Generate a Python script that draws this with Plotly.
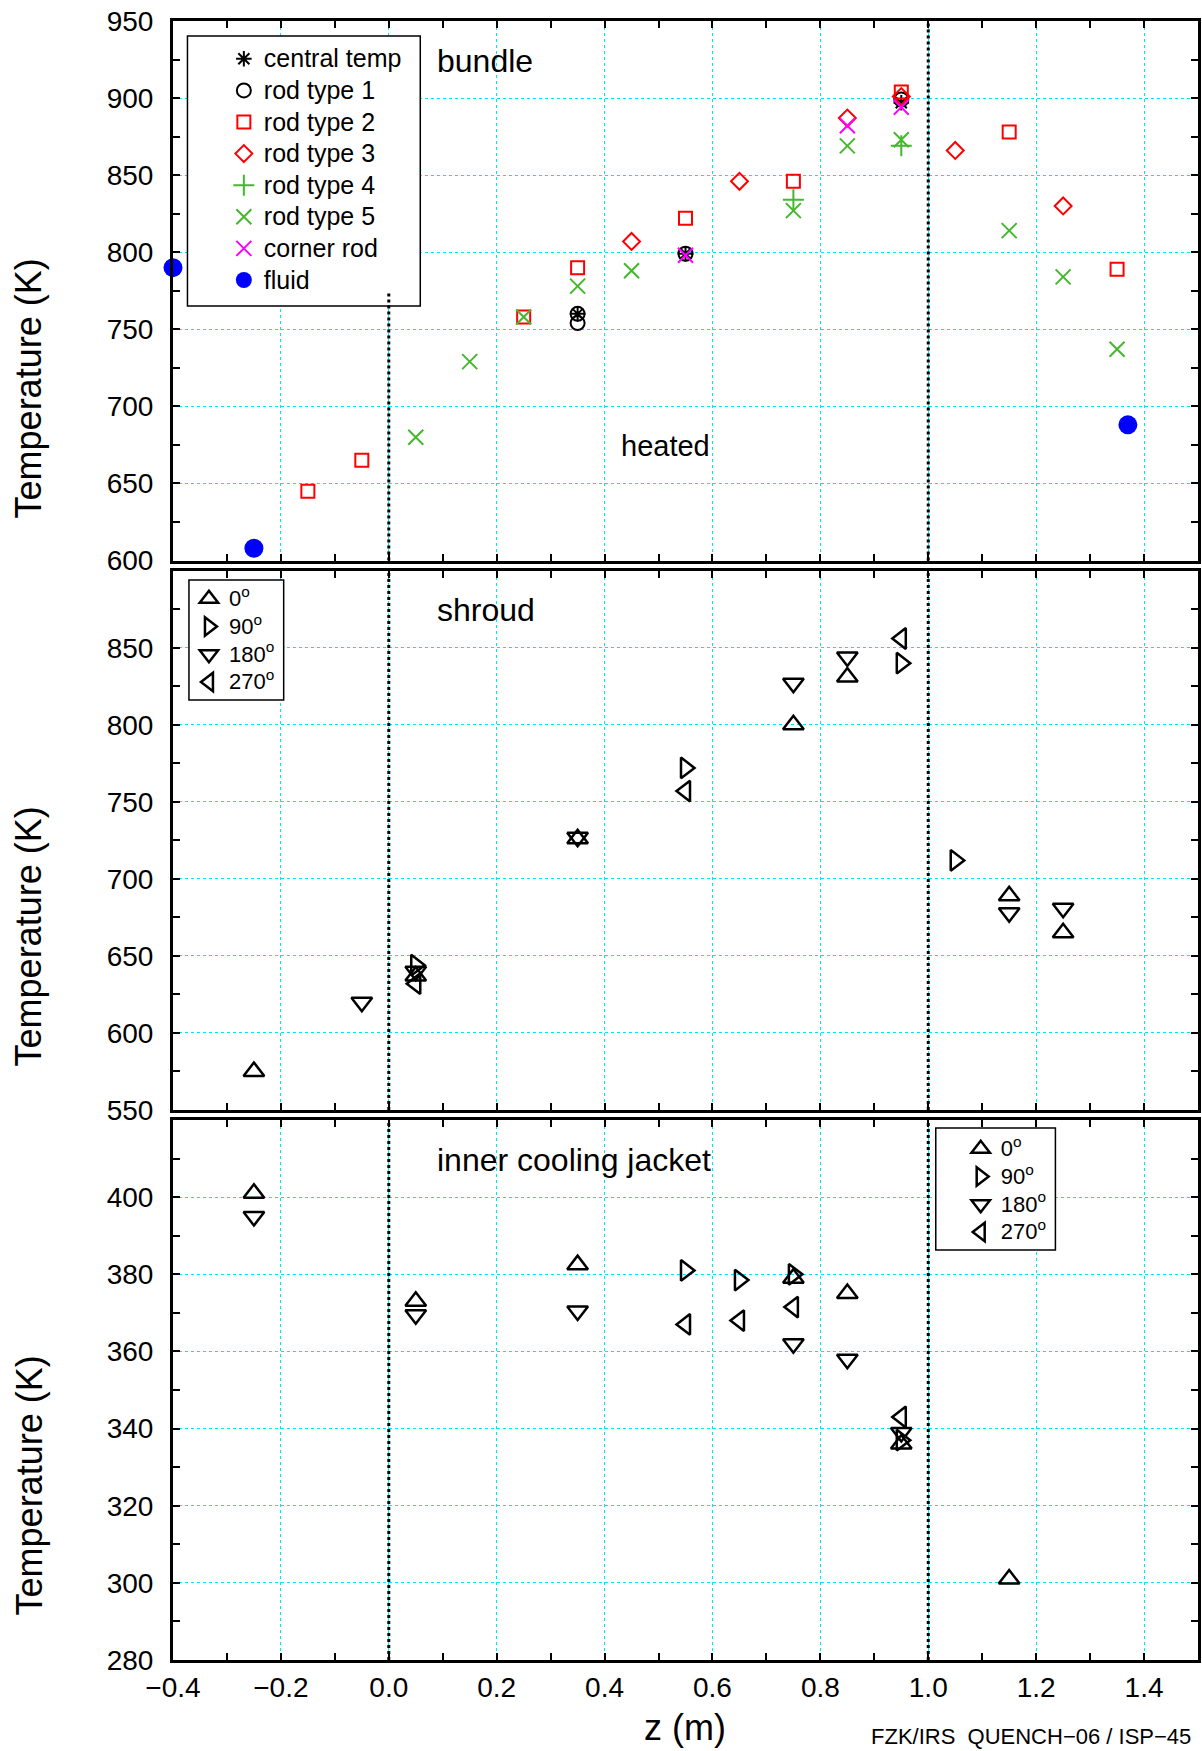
import plotly.graph_objects as go

FONT = "Liberation Sans, Arial, Helvetica, sans-serif"
GREEN = "#44b82c"
RED = "#ff0000"
MAGENTA = "#ff00ff"
BLUE = "#0000ff"
CYAN = "#00e8f0"

# ---------------- bundle (panel 1) ----------------
central_z = [0.35, 0.55, 0.95]
central_T = [760, 799, 897]
rod1_z = [0.35, 0.35, 0.55, 0.95]
rod1_T = [760, 754, 799, 899]
rod2_z = [-0.15, -0.05, 0.25, 0.35, 0.55, 0.75, 0.95, 1.15, 1.35]
rod2_T = [645, 665, 758, 790, 822, 846, 904, 878, 789]
rod3_z = [0.45, 0.65, 0.85, 0.95, 1.05, 1.25]
rod3_T = [807, 846, 887, 901, 866, 830]
rod4_z = [0.75, 0.95]
rod4_T = [834, 869]
rod5_z = [0.05, 0.15, 0.25, 0.35, 0.45, 0.75, 0.85, 0.95, 1.15, 1.25, 1.35]
rod5_T = [680, 729, 758, 778, 788, 827, 869, 873, 814, 784, 737]
corner_z = [0.55, 0.85, 0.95]
corner_T = [798, 882, 894]
fluid_z = [-0.4, -0.25, 1.37]
fluid_T = [790, 608, 688]

# ---------------- shroud (panel 2) ----------------
s0_z = [-0.25, 0.05, 0.35, 0.75, 0.85, 1.15, 1.25]
s0_T = [575, 637, 726, 800, 831, 689, 665]
s90_z = [0.05, 0.55, 0.95, 1.05]
s90_T = [644, 772, 840, 712]
s180_z = [-0.05, 0.05, 0.35, 0.75, 0.85, 1.15, 1.25]
s180_T = [620, 640, 727, 827, 844, 678, 681]
s270_z = [0.05, 0.55, 0.95]
s270_T = [632, 757, 856]

# ---------------- inner cooling jacket (panel 3) ----------------
j0_z = [-0.25, 0.05, 0.35, 0.75, 0.85, 0.95, 1.15]
j0_T = [401, 373, 382.5, 379, 375, 336, 301]
j90_z = [0.55, 0.65, 0.75, 0.95]
j90_T = [381, 378.5, 380, 337]
j180_z = [-0.25, 0.05, 0.35, 0.75, 0.85, 0.95]
j180_T = [395, 369.5, 370.5, 362, 358, 339]
j270_z = [0.55, 0.65, 0.75, 0.95]
j270_T = [367, 368, 371.5, 343]

bundle_names = ["central temp", "rod type 1", "rod type 2", "rod type 3",
                "rod type 4", "rod type 5", "corner rod", "fluid"]
angle_names = ["0<sup>o</sup>", "90<sup>o</sup>", "180<sup>o</sup>", "270<sup>o</sup>"]
tri_symbols = ["triangle-up-open", "triangle-right-open", "triangle-down-open", "triangle-left-open"]

fig = go.Figure()


def big(txt, size):
    return "<span style='font-size:%dpx'>%s</span>" % (size, txt)


def add(z, T, name, sym, color, size, lw, xa, ya, legend):
    fig.add_trace(go.Scatter(
        x=z, y=T, mode="markers", name=name, xaxis=xa, yaxis=ya, legend=legend,
        cliponaxis=False,
        marker=dict(symbol=sym, size=size, color=color,
                    line=dict(color=color, width=lw)),
    ))


bundle_z = [central_z, rod1_z, rod2_z, rod3_z, rod4_z, rod5_z, corner_z, fluid_z]
bundle_T = [central_T, rod1_T, rod2_T, rod3_T, rod4_T, rod5_T, corner_T, fluid_T]
bundle_sym = ["asterisk-open", "circle-open", "square-open", "diamond-open",
              "cross-thin-open", "x-thin-open", "x-thin-open", "circle"]
bundle_col = ["black", "black", RED, RED, GREEN, GREEN, MAGENTA, BLUE]
bundle_size = [13, 14, 13, 13, 15, 15, 15, 19]
bundle_lw = [2, 2, 2, 2, 2, 2, 2, 0]
for zz, TT, nm, sym, col, sz, lw in zip(bundle_z, bundle_T, bundle_names, bundle_sym,
                                         bundle_col, bundle_size, bundle_lw):
    add(zz, TT, big(nm, 25), sym, col, sz, lw, "x", "y", "legend")

for zz, TT, nm, sym in zip([s0_z, s90_z, s180_z, s270_z], [s0_T, s90_T, s180_T, s270_T],
                           angle_names, tri_symbols):
    add(zz, TT, big(nm, 22), sym, "black", 18, 2.5, "x2", "y2", "legend2")

for zz, TT, nm, sym in zip([j0_z, j90_z, j180_z, j270_z], [j0_T, j90_T, j180_T, j270_T],
                           angle_names, tri_symbols):
    add(zz, TT, big(nm, 22), sym, "black", 18, 2.5, "x3", "y3", "legend3")

# ---------------- axes ----------------
H_TOT = 1639.0
dom1 = [(1660 - 560.5) / H_TOT, 1.0]
dom2 = [(1660 - 1110) / H_TOT, (1660 - 570.7) / H_TOT]
dom3 = [0.0, (1660 - 1120) / H_TOT]

tickfont = dict(size=28, family=FONT, color="black")
GRIDDASH = "3px,3px"


def xaxis(anchor, labels):
    return dict(
        range=[-0.4, 1.5], tick0=0, dtick=0.2, tickformat=".1f",
        showgrid=True, gridcolor=CYAN, griddash=GRIDDASH, gridwidth=1.2,
        zeroline=False, showline=True, linecolor="black", linewidth=3,
        mirror="allticks", ticks="inside", ticklen=7, tickwidth=1.5, tickcolor="black",
        minor=dict(dtick=0.1, tick0=0, ticks="inside", ticklen=7, tickwidth=1.5,
                   tickcolor="black", showgrid=False),
        showticklabels=labels, tickfont=tickfont, ticklabelstandoff=0,
        anchor=anchor, domain=[0, 1],
    )


def yaxis(anchor, dom, lo, hi, step, minor_step):
    vals = []
    v = lo
    while v < hi - 1e-9:
        vals.append(v)
        v += step
    if anchor == "x":
        vals.append(hi)
    mvals = []
    v = lo
    while v <= hi + 1e-9:
        mvals.append(v)
        v += minor_step
    return dict(
        range=[lo, hi], tickmode="array", tickvals=vals,
        showgrid=True, gridcolor=CYAN, griddash=GRIDDASH, gridwidth=1.2,
        zeroline=False, showline=True, linecolor="black", linewidth=3,
        mirror="allticks", ticks="inside", ticklen=7, tickwidth=1.5, tickcolor="black",
        minor=dict(tickmode="array", tickvals=mvals, ticks="inside", ticklen=7,
                   tickwidth=1.5, tickcolor="black", showgrid=False),
        tickfont=tickfont, ticklabelstandoff=11,
        anchor=anchor, domain=dom,
    )


def px(xpix):
    return (xpix - 173) / 1028.0


def py(ypix):
    return (1660 - ypix) / H_TOT


legend_common = dict(xanchor="left", yanchor="top", bgcolor="rgba(0,0,0,0)",
                     borderwidth=0, itemwidth=30, tracegroupgap=0,
                     traceorder="normal")

shapes = [
    dict(type="rect", xref="paper", yref="paper", x0=px(187.5), x1=px(421), y0=py(306), y1=py(36),
         fillcolor="white", line=dict(color="black", width=1.5), layer="above"),
    dict(type="rect", xref="paper", yref="paper", x0=px(189), x1=px(284), y0=py(700), y1=py(580),
         fillcolor="white", line=dict(color="black", width=1.5), layer="above"),
    dict(type="rect", xref="paper", yref="paper", x0=px(938), x1=px(1058), y0=py(1250), y1=py(1128),
         fillcolor="white", line=dict(color="black", width=1.5), layer="above"),
]
dotted = dict(color="black", width=3, dash="3px,3px")
shapes += [
    dict(type="line", xref="x", yref="y", x0=0, x1=0, y0=600, y1=775, line=dotted, layer="above"),
    dict(type="line", xref="x", yref="y domain", x0=1.0, x1=1.0, y0=0, y1=1, line=dotted, layer="above"),
    dict(type="line", xref="x2", yref="y2 domain", x0=0, x1=0, y0=0, y1=1, line=dotted, layer="above"),
    dict(type="line", xref="x2", yref="y2 domain", x0=1.0, x1=1.0, y0=0, y1=1, line=dotted, layer="above"),
    dict(type="line", xref="x3", yref="y3 domain", x0=0, x1=0, y0=0, y1=1, line=dotted, layer="above"),
    dict(type="line", xref="x3", yref="y3 domain", x0=1.0, x1=1.0, y0=0, y1=1, line=dotted, layer="above"),
]

ann = []
for yc in [388, 936, 1485]:
    ann.append(dict(text="Temperature (K)", xref="paper", yref="paper", x=px(29), y=py(yc),
                    textangle=-90, showarrow=False, xanchor="center", yanchor="middle",
                    font=dict(size=36, family=FONT, color="black")))
ann.append(dict(text="z (m)", xref="paper", yref="paper", x=px(686), y=py(1727),
                showarrow=False, xanchor="center", yanchor="middle",
                font=dict(size=36, family=FONT, color="black")))
ann.append(dict(text="FZK/IRS\u00a0\u00a0QUENCH\u221206 / ISP\u221245", xref="paper", yref="paper",
                x=px(1196), y=py(1736), showarrow=False, xanchor="right", yanchor="middle",
                font=dict(size=22, family=FONT, color="black")))
for txt, yc in [("bundle", 61), ("shroud", 610), ("inner cooling jacket", 1159.5)]:
    ann.append(dict(text=txt, xref="paper", yref="paper", x=px(436), y=py(yc),
                    showarrow=False, xanchor="left", yanchor="middle",
                    font=dict(size=32, family=FONT, color="black")))
ann.append(dict(text="heated", xref="paper", yref="paper", x=px(620), y=py(446),
                showarrow=False, xanchor="left", yanchor="middle",
                font=dict(size=29, family=FONT, color="black")))

fig.update_layout(
    width=1202, height=1751,
    margin=dict(l=173, r=1, t=21, b=91),
    paper_bgcolor="white", plot_bgcolor="white",
    font=dict(family=FONT, color="black"),
    xaxis=xaxis("y", False), xaxis2=xaxis("y2", False), xaxis3=xaxis("y3", True),
    yaxis=yaxis("x", dom1, 600, 950, 50, 25),
    yaxis2=yaxis("x2", dom2, 550, 900, 50, 25),
    yaxis3=yaxis("x3", dom3, 280, 420, 20, 10),
    legend=dict(x=px(224), y=py(38), font=dict(size=22, family=FONT, color="black"), **legend_common),
    legend2=dict(x=px(189), y=py(580), font=dict(size=19, family=FONT, color="black"), **legend_common),
    legend3=dict(x=px(963), y=py(1130), font=dict(size=19, family=FONT, color="black"), **legend_common),
    shapes=shapes, annotations=ann, showlegend=True,
)

fig.write_html("out.html")
